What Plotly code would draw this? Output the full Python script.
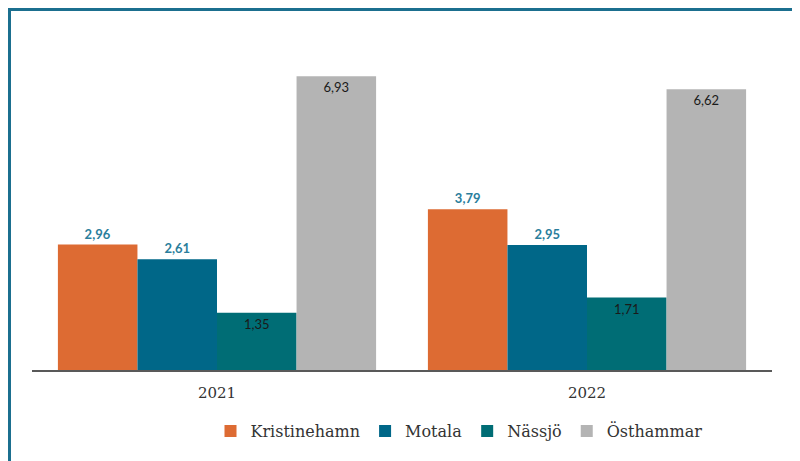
import plotly.graph_objects as go

years = ["2021", "2022"]
series_names = ["Kristinehamn", "Motala", "Nässjö", "Östhammar"]
kristinehamn = [2.96, 3.79]
motala = [2.61, 2.95]
nassjo = [1.35, 1.71]
osthammar = [6.93, 6.62]

values = [kristinehamn, motala, nassjo, osthammar]
colors = ["#DD6B33", "#006788", "#006D75", "#B4B4B4"]
positions = ["outside", "outside", "inside", "inside"]
label_fonts = [
    dict(family="Lato, Open Sans, sans-serif", size=13, color="#2B7E9C", weight="bold"),
    dict(family="Lato, Open Sans, sans-serif", size=13, color="#2B7E9C", weight="bold"),
    dict(family="Lato, Open Sans, sans-serif", size=13, color="#1A1A1A"),
    dict(family="Lato, Open Sans, sans-serif", size=13, color="#1A1A1A"),
]

fig = go.Figure()
for name, vals, col, pos, f in zip(series_names, values, colors, positions, label_fonts):
    fig.add_trace(go.Bar(
        name=name, x=years, y=vals,
        marker=dict(color=col, line=dict(width=0)),
        text=[f"{v:.2f}".replace(".", ",") for v in vals],
        textposition=pos,
        insidetextanchor="end",
        textfont=f,
        outsidetextfont=f,
        insidetextfont=f,
        cliponaxis=False,
    ))

# page has an 8px body margin; target pixel positions are shifted by it
OFF = 8
W, H = 800, 461
ml, mr, mt, mb = 24, 36, 32, 99
pw, ph = W - ml - mr, H - mt - mb

def px_x(p):
    return (p - OFF - ml) / pw

def px_y(p):
    return (H - mb - (p - OFF)) / ph

fig.update_layout(
    width=W, height=H,
    margin=dict(l=ml, r=mr, t=mt, b=mb),
    paper_bgcolor="white", plot_bgcolor="white",
    barmode="group", bargap=0.14, bargroupgap=0,
    xaxis=dict(
        showline=True, linecolor="#595959", linewidth=2,
        ticks="", showgrid=False, ticklabelstandoff=8,
        tickfont=dict(family="DejaVu Serif, serif", size=15, color="#333333"),
    ),
    yaxis=dict(
        range=[0, ph / 42.4], visible=False, showgrid=False, zeroline=False,
    ),
    showlegend=True,
    legend=dict(
        orientation="h", x=px_x(459), xanchor="center",
        y=px_y(431), yanchor="middle",
        font=dict(family="DejaVu Serif, serif", size=16, color="#333333"),
        itemwidth=30, traceorder="normal",
    ),
    shapes=[
        dict(type="rect", xref="paper", yref="paper",
             x0=px_x(9.5), x1=px_x(840), y0=px_y(520), y1=px_y(9.5),
             line=dict(color="#1B6F8F", width=3), fillcolor="rgba(0,0,0,0)",
             layer="above"),
    ],
)

fig.write_html("out.html")
